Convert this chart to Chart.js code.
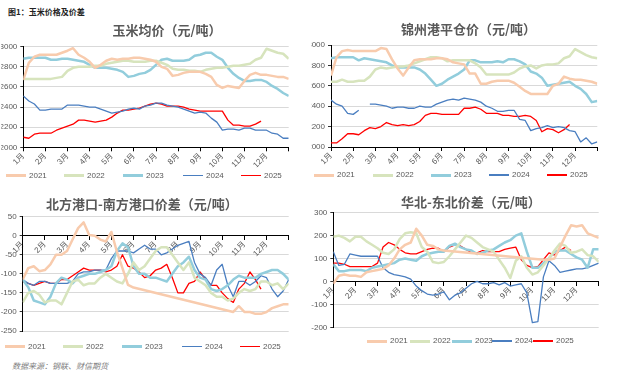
<!DOCTYPE html>
<html><head><meta charset="utf-8">
<script src="https://cdn.jsdelivr.net/npm/chart.js@4.4.1/dist/chart.umd.min.js"></script>
<style>
html,body{margin:0;padding:0;background:#fff;}
body{width:619px;height:384px;position:relative;overflow:hidden;font-family:"Liberation Sans","Noto Sans CJK SC",sans-serif;}
.panel{position:absolute;overflow:hidden;}
.panel canvas{position:absolute;left:0;top:0;}
.title{position:absolute;font-family:"Noto Sans CJK SC",sans-serif;font-weight:bold;font-size:13px;line-height:13px;color:#595959;white-space:nowrap;}
.lg-line{position:absolute;width:20px;}
.lg-text{position:absolute;font-family:"Liberation Sans",sans-serif;font-size:8px;line-height:10px;color:#595959;white-space:nowrap;}
#hdr{position:absolute;left:8px;top:8px;font-family:"Noto Sans CJK SC",sans-serif;font-weight:bold;font-size:8px;line-height:8px;color:#222;}
#src{position:absolute;left:12px;top:362px;font-family:"Noto Sans CJK SC",sans-serif;font-style:italic;font-size:8px;line-height:8px;color:#7f7f7f;}
</style>
</head><body>
<div id="hdr">图1：玉米价格及价差</div>
<div id="src">数据来源：钢联、财信期货</div>
<script>
// ---------- data ----------
const monthLabels = ['1月','2月','3月','4月','5月','6月','7月','8月','9月','10月','11月','12月'];
const seriesNames = ['2021','2022','2023','2024','2025'];
// sample positions in months from 1 Jan (quarter-month steps)
const samplePos = Array.from({length: 49}, (_, i) => i / 4);

// 玉米均价（元/吨）
const corn2021 = [2670,2840,2900,2920,2920,2920,2920,2940,2960,2985,2920,2890,2850,2790,2820,2860,2880,2870,2880,2880,2890,2890,2880,2870,2850,2800,2780,2710,2720,2740,2750,2750,2750,2730,2700,2620,2590,2610,2600,2590,2660,2720,2740,2720,2720,2710,2700,2700,2680];
const corn2022 = [2680,2680,2680,2680,2680,2680,2690,2700,2760,2790,2800,2800,2800,2810,2810,2830,2840,2850,2860,2860,2850,2850,2850,2860,2860,2840,2820,2780,2770,2770,2760,2760,2750,2770,2780,2790,2790,2800,2810,2810,2820,2830,2870,2890,2980,2960,2940,2930,2880];
const corn2023 = [2880,2890,2890,2890,2890,2870,2870,2880,2880,2870,2860,2850,2820,2790,2790,2790,2780,2770,2750,2700,2710,2730,2740,2770,2820,2870,2880,2860,2860,2860,2870,2910,2920,2940,2940,2900,2870,2790,2730,2690,2660,2660,2670,2670,2650,2610,2580,2540,2510];
const corn2024 = [2510,2460,2430,2370,2370,2380,2380,2380,2420,2420,2420,2410,2400,2400,2380,2360,2340,2350,2360,2380,2390,2380,2410,2420,2440,2440,2420,2410,2400,2380,2360,2340,2350,2340,2290,2250,2170,2180,2180,2170,2190,2190,2170,2170,2170,2140,2130,2090,2090];
const corn2025 = [2100,2090,2130,2140,2140,2140,2170,2190,2210,2230,2270,2270,2260,2250,2260,2270,2300,2340,2370,2370,2380,2390,2410,2430,2440,2430,2410,2410,2410,2400,2380,2370,2360,2360,2360,2360,2360,2270,2220,2220,2210,2210,2230,2260,null,null,null,null,null];

// 锦州港平仓价（元/吨）
const jz2021 = [2700,2880,2940,2950,2940,2940,2940,2940,2940,2970,2960,2860,2770,2700,2780,2850,2860,2860,2860,2870,2870,2860,2830,2820,2810,2720,2720,2620,2620,2640,2650,2650,2650,2630,2590,2550,2520,2520,2520,2520,2600,2620,2690,2670,2660,2660,2650,2640,2620];
const jz2022 = [2640,2640,2660,2640,2640,2650,2650,2690,2760,2780,2770,2780,2790,2790,2800,2820,2840,2860,2880,2880,2870,2840,2850,2850,2850,2850,2820,2780,2710,2710,2710,2710,2710,2730,2770,2790,2800,2770,2800,2810,2810,2820,2870,2890,2960,2930,2900,2880,2870];
const jz2023 = [2870,2880,2880,2880,2880,2850,2870,2860,2850,2840,2830,2800,2780,2780,2780,2780,2760,2720,2660,2600,2620,2660,2690,2720,2760,2850,2850,2830,2830,2830,2840,2830,2860,2860,2840,2810,2740,2720,2680,2600,2610,2620,2630,2640,2600,2570,2520,2440,2450];
const jz2024 = [2460,2420,2400,2330,2320,2360,null,2420,2420,2410,2400,2380,2390,2390,2380,2380,2400,2390,2390,2420,2440,2460,2470,2460,2480,2470,2460,2440,2400,2380,2350,2350,2360,2360,2270,2260,2160,2180,2190,2210,2190,2200,2190,2160,2150,2050,2090,2030,2050];
const jz2025 = [2040,2040,2080,2130,2130,2120,2160,2190,2180,2200,2240,2220,2210,2220,2210,2220,2250,2310,2330,2330,2320,2320,2320,2320,2380,2380,2390,2370,2330,2330,2330,2310,2310,2300,2300,2310,2300,2260,2150,2180,2170,2140,2170,2220,null,null,null,null,null];

// 北方港口-南方港口价差（元/吨）
const ns2021 = [-115,-85,-80,-93,-90,-75,-50,-50,-40,-10,20,35,2,0,-10,-15,10,-42,-85,-129,-136,null,null,null,null,null,null,null,null,null,null,null,null,null,null,null,null,null,-200,-185,-200,-200,-205,-205,-200,-190,-185,-180,-180];
const ns2022 = [-175,-150,-145,-155,-175,-170,-170,-180,-150,-120,-115,-130,-125,-125,-110,-100,-110,-120,-125,-100,-70,-90,-80,-60,-40,-30,-30,-50,-70,-90,-70,-110,-120,-130,-150,-160,-160,-170,-165,-150,-140,-145,-140,-120,-120,-130,-125,-140,-125];
const ns2023 = [-115,-135,-170,-175,-180,-160,-125,-110,-115,-125,-110,-105,-100,-100,-95,-90,-80,-40,-20,-30,-80,-100,-100,-110,-110,-115,-120,-100,-80,-70,-55,-90,-110,-115,-140,-145,-140,-130,-115,-105,-110,-110,-110,-100,-95,-90,-90,-100,-115];
const ns2024 = [-115,-125,-130,-120,-120,-125,-125,-125,-125,-120,-100,-95,-95,-90,-90,-90,-60,-40,-40,-40,-45,-35,-25,-35,-35,-50,-45,-35,-25,-20,-15,-70,-100,-110,-130,-90,-75,-130,-160,-120,-120,-130,-120,-105,-110,-140,-160,-145,-115];
const ns2025 = [-120,-125,-130,-125,-120,-125,-125,-115,-115,-105,-95,-85,-90,-90,-90,-95,-90,-80,-50,-80,-85,-95,-110,-105,-90,-85,-75,-110,-150,-150,-125,-120,-95,-115,-130,-130,-150,-165,-175,-140,-125,-95,-115,-140,null,null,null,null,null];

// 华北-东北价差（元/吨）
const hd2021 = [-10,25,30,25,25,20,40,45,50,55,70,100,140,160,170,230,200,160,155,140,135,null,null,null,null,null,null,null,null,null,null,null,null,null,null,null,null,null,95,95,100,150,200,245,240,245,210,200,190];
const hd2022 = [195,200,190,175,195,195,175,160,145,125,120,140,185,210,215,210,150,130,85,80,85,110,140,170,200,190,170,150,140,130,95,60,15,90,110,60,30,40,70,100,135,165,155,125,130,140,115,110,85];
const hd2023 = [75,45,45,50,50,50,45,60,65,70,75,80,95,100,95,90,110,120,125,130,130,155,165,150,140,135,120,125,135,140,155,170,180,200,210,130,60,60,80,100,130,135,135,120,105,95,60,140,140];
const hd2024 = [130,70,75,120,115,110,110,110,110,60,40,30,25,20,10,-20,-40,-55,-60,-55,-45,-80,-60,-50,-30,-10,0,-10,-10,-5,-15,-5,-20,-15,-10,-50,-180,-175,20,90,70,40,45,50,55,55,60,70,80];
const hd2025 = [80,80,75,65,65,65,65,65,80,150,170,160,140,125,120,120,130,140,145,145,130,150,160,155,140,125,125,135,130,130,130,140,145,150,95,70,60,65,95,125,115,135,150,135,null,null,null,null,null];

// ---------- styles / layout ----------
const seriesStyle = [
  {color:'#F8CBAD', width:2.5, lg:3},
  {color:'#D7E4BD', width:2.5, lg:3},
  {color:'#92CDDC', width:2.5, lg:3},
  {color:'#4A7EC0', width:1.3, lg:1.5},
  {color:'#FF0000', width:1.3, lg:1.5}
];

const panels = [
  {title:'玉米均价（元/吨）', titlePos:[112.5,23], box:[0,0,310,190], pad:{left:1,right:21.3,top:46.7,bottom:22.7}, yW:22.3,
   y:{min:2000,max:3000,step:200}, zero:false, series:[corn2021,corn2022,corn2023,corn2024,corn2025], span:[false,false,false,false,false],
   legend:{y:175.7, xs:[6,64,123,183,241]}},
  {title:'锦州港平仓价（元/吨）', titlePos:[401,22.3], box:[310,0,309,190], pad:{left:1,right:21.7,top:45,bottom:23}, yW:20,
   y:{min:2000,max:3000,step:200}, zero:false, series:[jz2021,jz2022,jz2023,jz2024,jz2025], span:[false,false,false,false,false],
   legend:{y:175, xs:[314,373,431,489,547]}},
  {title:'北方港口-南方港口价差（元/吨）', titlePos:[46,197], box:[0,185,310,199], pad:{left:1,right:21.3,top:31.7,bottom:53}, yW:21.7,
   y:{min:-250,max:50,step:50}, zero:true, series:[ns2021,ns2022,ns2023,ns2024,ns2025], span:[true,false,false,false,false],
   legend:{y:346.7, xs:[5,63,122,182,240]}},
  {title:'华北-东北价差（元/吨）', titlePos:[401,194.7], box:[310,185,309,199], pad:{left:1,right:20.3,top:27.7,bottom:56.7}, yW:22.3,
   y:{min:-200,max:300,step:100}, zero:true, series:[hd2021,hd2022,hd2023,hd2024,hd2025], span:[true,false,false,false,false],
   legend:{y:341, xs:[367,410,452,492,533]}}
];

const tickFont = {family:'"Liberation Sans","Noto Sans CJK SC",sans-serif', size:8};
const monthTicks = [0,1,2,3,4,5,6,7,8,9,10,11,12];

panels.forEach((p, pi) => {
  const [bx, by, bw, bh] = p.box;
  const wrap = document.createElement('div');
  wrap.className = 'panel';
  wrap.style.cssText = `left:${bx}px;top:${by}px;width:${bw}px;height:${bh}px;`;
  const cv = document.createElement('canvas');
  cv.width = bw; cv.height = bh;
  cv.style.width = bw + 'px'; cv.style.height = bh + 'px';
  wrap.appendChild(cv);
  document.body.appendChild(wrap);

  const t = document.createElement('div');
  t.className = 'title'; t.textContent = p.title;
  t.style.left = p.titlePos[0] + 'px'; t.style.top = p.titlePos[1] + 'px';
  document.body.appendChild(t);

  seriesNames.forEach((name, si) => {
    const st = seriesStyle[si];
    const ln = document.createElement('div');
    ln.className = 'lg-line';
    ln.style.cssText = `left:${p.legend.xs[si]}px;top:${p.legend.y - st.lg/2}px;height:${st.lg}px;background:${st.color};`;
    document.body.appendChild(ln);
    const tx = document.createElement('div');
    tx.className = 'lg-text'; tx.textContent = name;
    tx.style.left = (p.legend.xs[si] + 23) + 'px'; tx.style.top = (p.legend.y - 5) + 'px';
    document.body.appendChild(tx);
  });

  const datasets = p.series.map((arr, si) => ({
    label: seriesNames[si],
    data: samplePos.map((x, i) => ({x: x, y: arr[i]})),
    borderColor: seriesStyle[si].color,
    backgroundColor: seriesStyle[si].color,
    borderWidth: seriesStyle[si].width,
    pointRadius: 0,
    tension: 0,
    fill: false,
    spanGaps: p.span[si],
    borderJoinStyle: 'round'
  }));

  const xScale = {
    type: 'linear', min: 0, max: 12,
    afterBuildTicks: s => { s.ticks = monthTicks.map(v => ({value: v})); },
    ticks: {
      autoSkip: false, maxRotation: 45, minRotation: 45, padding: 0,
      font: tickFont, color: '#595959',
      callback: (v, i) => (i < monthLabels.length ? monthLabels[i] : '')
    },
    grid: {drawOnChartArea: false, drawTicks: true, tickLength: 4, tickColor: '#000', color: '#000'},
    border: {display: true, color: '#000', width: 1}
  };
  if (p.zero) {
    xScale.position = {y: 0};
  } else {
    xScale.position = 'bottom';
    xScale.afterFit = s => { s.height = 20; };
  }

  new Chart(cv, {
    type: 'line',
    data: {datasets},
    options: {
      responsive: false, animation: false, devicePixelRatio: 1,
      layout: {padding: p.pad},
      plugins: {legend: {display: false}, tooltip: {enabled: false}, title: {display: false}},
      events: [],
      scales: {
        x: xScale,
        y: {
          type: 'linear', min: p.y.min, max: p.y.max,
          afterFit: s => { s.width = p.yW; },
          ticks: {stepSize: p.y.step, padding: 3, font: tickFont, color: '#595959', callback: v => String(v)},
          grid: {color: '#D9D9D9', lineWidth: 1, drawTicks: true, tickLength: 3, tickColor: '#333'},
          border: {display: true, color: '#000', width: 1}
        }
      }
    }
  });
});
</script>
</body></html>
